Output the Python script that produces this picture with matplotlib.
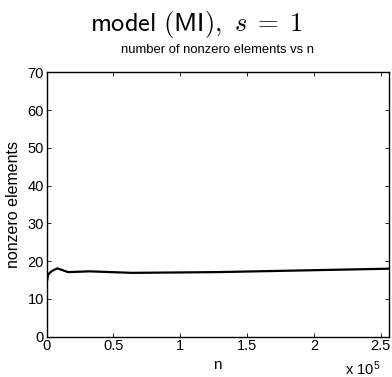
import matplotlib
matplotlib.use("Agg")
import matplotlib.pyplot as plt

# problem sizes and nonzero counts
n_values = [500, 1000, 2000, 4000, 8000, 16000, 32000, 64000, 128000, 256000]
nonzeros = [15.2, 16.3, 16.8, 17.4, 18.1, 17.1, 17.3, 16.9, 17.1, 18.0]

plt.rcParams['font.family'] = ['Liberation Sans', 'DejaVu Sans']
plt.rcParams['mathtext.fontset'] = 'cm'

fig = plt.figure(figsize=(3.92, 3.77), dpi=100)
ax = fig.add_axes([0.119, 0.107, 0.873, 0.701])

ax.plot(n_values, nonzeros, color='black', linewidth=1.6)

ax.set_xlim(0, 256000)
ax.set_ylim(0, 70)
ax.set_xticks([0, 50000, 100000, 150000, 200000, 250000])
ax.set_xticklabels(['0', '0.5', '1', '1.5', '2', '2.5'])
ax.set_yticks(range(0, 71, 10))
ax.tick_params(direction='in', top=True, right=True, length=3, width=0.6,
               labelsize=10.5, pad=2, colors='black')
for sp in ax.spines.values():
    sp.set_linewidth(1.0)

ax.set_xlabel('n', fontsize=11)
ax.xaxis.set_label_coords(0.5, -0.079)
ax.set_ylabel('nonzero elements', fontsize=11.5, va='center')
ax.yaxis.set_label_coords(-0.098, 0.5)
ax.set_title('number of nonzero elements vs n', fontsize=9.4, pad=14)

fig.text(345 / 392, 0.005, r'x 10$^{\mathregular{5}}$', fontsize=10.5,
         ha='left', va='baseline')
fig.text(0.5, 0.936, r'$\mathsf{model\ (MI),}\ s\;=\;1$', fontsize=19,
         ha='center', va='center')

fig.savefig('out.png', dpi=100)
